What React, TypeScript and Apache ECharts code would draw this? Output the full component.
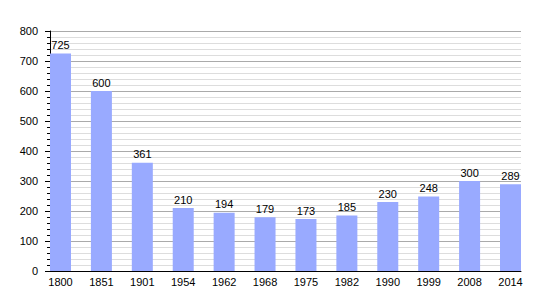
import React, { useEffect, useRef } from "react";
import * as echarts from "echarts";

const years = ["1800", "1851", "1901", "1954", "1962", "1968", "1975", "1982", "1990", "1999", "2008", "2014"];
const population = [725, 600, 361, 210, 194, 179, 173, 185, 230, 248, 300, 289];

const FONT = "'Liberation Sans', Arial, sans-serif";

export default function App() {
  const ref = useRef<HTMLDivElement>(null);
  useEffect(() => {
    if (!ref.current) return;
    const chart = echarts.init(ref.current, undefined, { renderer: "svg" });
    chart.setOption({
      animation: false,
      backgroundColor: "#ffffff",
      textStyle: { fontFamily: FONT },
      grid: [
        { left: 50, right: 29, top: 31, bottom: 29 },
        { left: 60.5, right: 39.5, top: 31, bottom: 29 },
      ],
      xAxis: [
        {
          gridIndex: 0,
          type: "value",
          min: 0,
          max: 1,
          axisLine: { show: true, onZero: false, lineStyle: { color: "#000", width: 1 } },
          axisTick: { show: false },
          axisLabel: { show: false },
          splitLine: { show: false },
        },
        {
          gridIndex: 1,
          type: "category",
          data: years,
          boundaryGap: false,
          axisLine: { show: false },
          axisTick: { show: false },
          axisLabel: { color: "#000", fontSize: 11, fontFamily: FONT, margin: 5, interval: 0 },
          splitLine: { show: false },
        },
      ],
      yAxis: [
        {
          gridIndex: 0,
          type: "value",
          min: 0,
          max: 800,
          interval: 100,
          axisLine: { show: true, lineStyle: { color: "#000", width: 1 } },
          axisTick: { show: true, length: 5, lineStyle: { color: "#000" } },
          minorTick: { show: true, splitNumber: 5, length: 3, lineStyle: { color: "#000" } },
          axisLabel: { color: "#000", fontSize: 11, fontFamily: FONT, margin: 12 },
          splitLine: { show: true, lineStyle: { color: "#aaaaaa", width: 1 } },
          minorSplitLine: { show: true, lineStyle: { color: "#dddddd", width: 1 } },
        },
        {
          gridIndex: 1,
          type: "value",
          min: 0,
          max: 800,
          show: false,
        },
      ],
      series: [
        {
          type: "bar",
          xAxisIndex: 1,
          yAxisIndex: 1,
          data: population,
          barWidth: 21,
          itemStyle: { color: "#99aaff" },
          label: {
            show: true,
            position: "top",
            distance: 3,
            color: "#000",
            fontSize: 11,
            fontFamily: FONT,
          },
        },
      ],
    });
    return () => chart.dispose();
  }, []);
  return (
    <div
      ref={ref}
      style={{ position: "fixed", left: 0, top: 0, width: 550, height: 300, background: "#fff" }}
    />
  );
}
